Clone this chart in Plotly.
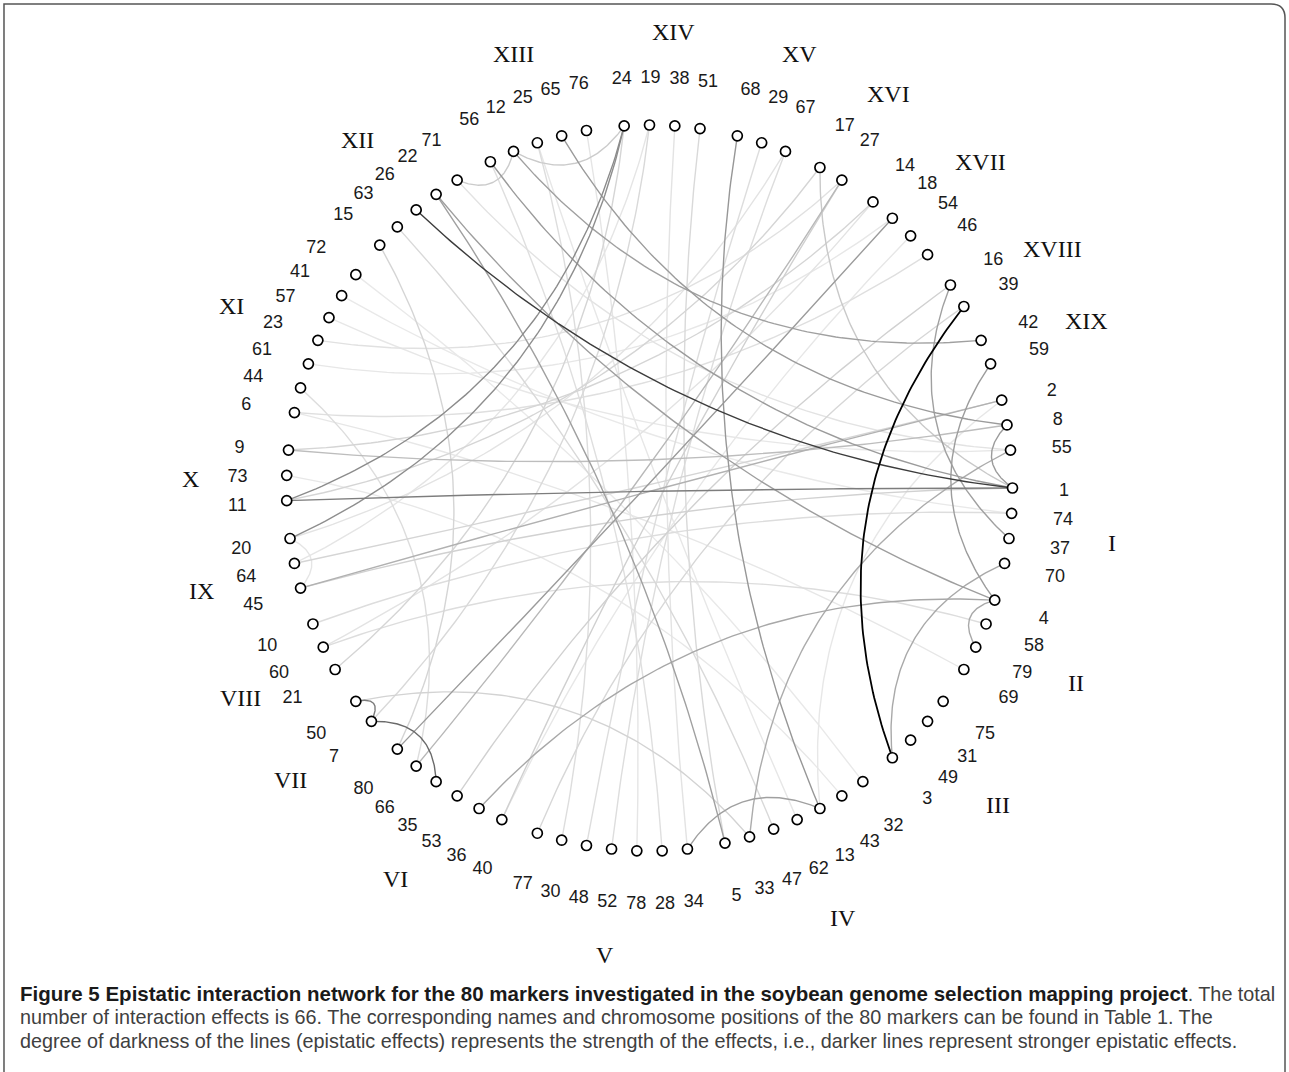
import numpy as np
import plotly.graph_objects as go

# ---------------------------------------------------------------------------
# Data
# ---------------------------------------------------------------------------
# Chromosome labels (the last group of markers carries no label)
CHROM_LABELS = ["I", "II", "III", "IV", "V", "VI", "VII", "VIII", "IX", "X",
                "XI", "XII", "XIII", "XIV", "XV", "XVI", "XVII", "XVIII", "XIX", ""]

# Markers on each chromosome, in clockwise order starting at chromosome I
CHROM_MARKERS = [
    [1, 74, 37, 70],
    [4, 58, 79, 69],
    [75, 31, 49, 3],
    [32, 43, 13, 62, 47, 33, 5],
    [34, 28, 78, 52, 48, 30, 77],
    [40, 36, 53, 35, 66, 80],
    [7, 50],
    [21, 60, 10],
    [45, 64, 20],
    [11, 73, 9],
    [6, 44, 61, 23, 57, 41, 72],
    [15, 63, 26, 22, 71],
    [56, 12, 25, 65, 76],
    [24, 19, 38, 51],
    [68, 29, 67],
    [17, 27],
    [14, 18, 54, 46],
    [16, 39],
    [42, 59],
    [2, 8, 55],
]

# Epistatic interactions: marker pairs and relative effect strength (0..1)
EDGE_FROM = [39, 26, 11, 7, 50, 24, 24, 68, 34, 16, 59, 8, 18, 36, 33, 12,
             22, 56, 65, 22, 4, 70, 45, 9, 27, 17, 12, 71, 45, 10, 21, 7,
             38, 51, 25, 15, 63, 44, 20, 9, 6, 23, 11, 77, 52, 48, 53, 64,
             60, 50, 27, 28, 71, 13, 76, 14, 54, 19, 67, 57, 41, 61, 32, 62,
             69, 43]
EDGE_TO = [3, 1, 1, 35, 7, 11, 20, 13, 13, 37, 4, 1, 80, 4, 55, 42,
           4, 1, 8, 5, 79, 3, 2, 8, 66, 1, 24, 12, 1, 74, 24, 19,
           34, 5, 30, 80, 47, 66, 45, 14, 46, 27, 17, 39, 67, 29, 16, 2,
           58, 33, 40, 56, 55, 2, 78, 60, 40, 64, 20, 55, 74, 18, 72, 25,
           6, 73]
EDGE_STRENGTH = [1.00, 0.745, 0.47, 0.55, 0.48, 0.41, 0.40, 0.36, 0.32, 0.32,
                 0.34, 0.345, 0.345, 0.29, 0.27, 0.32, 0.33, 0.345, 0.345, 0.32,
                 0.285, 0.285, 0.25, 0.20, 0.22, 0.15, 0.14, 0.14, 0.115, 0.064,
                 0.098, 0.081, 0.038, 0.081, 0.064, 0.098, 0.081, 0.064, 0.03, 0.098,
                 0.055, 0.047, 0.098, 0.089, 0.064, 0.064, 0.115, 0.098, 0.064, 0.106,
                 0.12, 0.055, 0.038, 0.021, 0.03, 0.038, 0.021, 0.03, 0.038, 0.021,
                 0.013, 0.021, 0.013, 0.021, 0.02, 0.015]

CAPTION_BOLD = ("Figure 5 Epistatic interaction network for the 80 markers "
                "investigated in the soybean genome selection mapping project")
CAPTION_LINES = [
    ". The total",
    "number of interaction effects is 66. The corresponding names and chromosome "
    "positions of the 80 markers can be found in Table 1. The",
    "degree of darkness of the lines (epistatic effects) represents the strength "
    "of the effects, i.e., darker lines represent stronger epistatic effects.",
]

# ---------------------------------------------------------------------------
# Layout of the circle
# ---------------------------------------------------------------------------
W, H = 1289, 1072
CX, CY, RPX = 649.5, 488.0, 363.0        # centre and radius of the marker ring (px)
STEP, GAP = 4.0, 2.0                       # degrees per marker / extra between groups


def px(v):
    return v / RPX


angle = {}
k = 0
for gi, grp in enumerate(CHROM_MARKERS):
    for m in grp:
        angle[m] = k * STEP + gi * GAP      # clockwise from east
        k += 1


def unit(deg):
    t = np.radians(deg)
    return np.array([np.cos(t), -np.sin(t)])


def edge_curve(a, b, n=90):
    """Quadratic Bezier whose control point is the chord midpoint pulled
    towards the centre; short chords stay close to the rim."""
    p0, p2 = unit(angle[a]), unit(angle[b])
    d = abs((angle[a] - angle[b] + 180.0) % 360.0 - 180.0)
    mid = (p0 + p2) / 2.0
    ctrl = mid * max(0.0, 0.95 - 0.0051 * d)
    t = np.linspace(0, 1, n)[:, None]
    pts = (1 - t) ** 2 * p0 + 2 * (1 - t) * t * ctrl + t ** 2 * p2
    return pts[:, 0], pts[:, 1]


fig = go.Figure()

# edges: faint first, strongest on top
order = np.argsort(EDGE_STRENGTH)
for i in order:
    a, b, s = EDGE_FROM[i], EDGE_TO[i], EDGE_STRENGTH[i]
    g = int(round(236 * (1 - s)))
    xs, ys = edge_curve(a, b)
    fig.add_trace(go.Scatter(
        x=xs, y=ys, mode="lines", hoverinfo="skip",
        line=dict(color=f"rgb({g},{g},{g})", width=1.8 if s > 0.9 else 1.4),
    ))

# marker nodes
all_markers = [m for grp in CHROM_MARKERS for m in grp]
mx = [unit(angle[m])[0] for m in all_markers]
my = [unit(angle[m])[1] for m in all_markers]
fig.add_trace(go.Scatter(
    x=mx, y=my, mode="markers", hoverinfo="text",
    text=[str(m) for m in all_markers],
    marker=dict(symbol="circle", size=10, color="white",
                line=dict(color="black", width=1.7)),
))

# marker number labels
LR = px(413.4)
lx = [LR * unit(angle[m])[0] + px(1.1) for m in all_markers]
ly = [LR * unit(angle[m])[1] - px(3.8) for m in all_markers]
fig.add_trace(go.Scatter(
    x=lx, y=ly, mode="text", text=[str(m) for m in all_markers],
    textposition="middle center", hoverinfo="skip",
    textfont=dict(family="Liberation Sans, Arial, sans-serif", size=18, color="#1a1a1a"),
))

# chromosome labels; the anchor sits a third of the way into each word
ROMAN_FS = 24
GLYPH_W = {"X": 0.722, "V": 0.722, "I": 0.333}
CR = px(463.2)
for lab, grp in zip(CHROM_LABELS, CHROM_MARKERS):
    if not lab:
        continue
    mid = (angle[grp[0]] + angle[grp[-1]]) / 2.0
    u = unit(mid)
    wpx = sum(GLYPH_W[c] for c in lab) * ROMAN_FS
    fig.add_annotation(
        x=CR * u[0] + px(0.5 + 0.171 * wpx), y=CR * u[1] - px(6.7), xref="x", yref="y",
        text=lab, showarrow=False, xanchor="center", yanchor="middle", borderpad=0,
        font=dict(family="Liberation Serif, Times New Roman, serif", size=ROMAN_FS,
                  color="#111111"),
    )

# caption
cap_font = dict(family="Liberation Sans, Arial, sans-serif", size=19.8, color="#404040")
fig.add_annotation(
    x=19 / W, y=1 - 993 / H, xref="paper", yref="paper", xanchor="left", yanchor="middle",
    showarrow=False, align="left", font=cap_font, borderpad=0,
    text=(f"<b><span style='color:#1a1a1a;font-size:20.5px'>{CAPTION_BOLD}</span></b>"
          f"{CAPTION_LINES[0]}"),
)
for j, line in enumerate(CAPTION_LINES[1:]):
    fig.add_annotation(
        x=19 / W, y=1 - (1017 + 24 * j) / H, xref="paper", yref="paper",
        xanchor="left", yanchor="middle", showarrow=False, align="left",
        font=cap_font, text=line, borderpad=0,
    )


# frame around the figure
def P(x, y):
    return f"{x / W:.5f},{1 - y / H:.5f}"


frame = (f"M {P(4, H + 5)} L {P(4, 4)} L {P(1271, 4)} "
         f"Q {P(1285, 4)} {P(1285, 18)} L {P(1285, H + 5)}")
fig.add_shape(type="path", path=frame, xref="paper", yref="paper",
              line=dict(color="#555555", width=1.5))

fig.update_layout(
    width=W, height=H, autosize=False,
    margin=dict(l=0, r=0, t=0, b=0),
    paper_bgcolor="white", plot_bgcolor="white",
    showlegend=False,
    xaxis=dict(range=[-CX / RPX, (W - CX) / RPX], visible=False, fixedrange=True),
    yaxis=dict(range=[-(H - CY) / RPX, CY / RPX], visible=False, fixedrange=True),
)

fig.write_html("out.html")
